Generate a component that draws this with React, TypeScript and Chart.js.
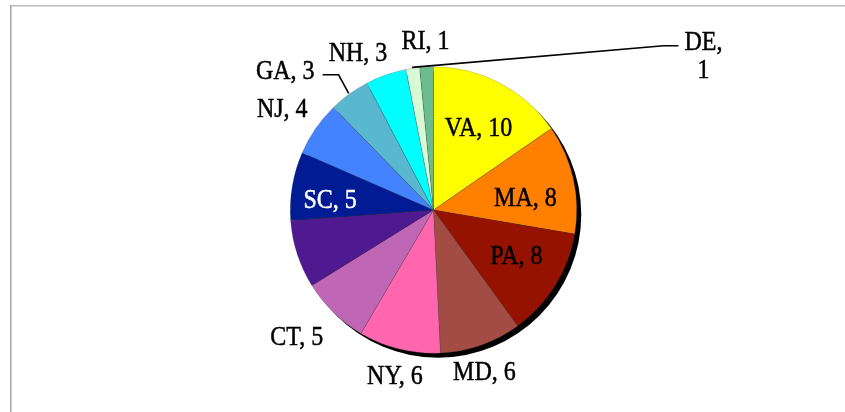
import React, { useEffect, useRef } from 'react';
import { Chart, registerables } from 'chart.js';

Chart.register(...registerables);

// ---- data ----
const states = ['VA', 'MA', 'PA', 'MD', 'NY', 'CT', 'NC', 'SC', 'NJ', 'GA', 'NH', 'RI', 'DE'];
const seats = [10, 8, 8, 6, 6, 5, 5, 5, 4, 3, 3, 1, 1];

// ---- styles ----
const sliceColors = [
  '#FFFF00', '#FF7F00', '#961200', '#A34C43', '#FF66AE', '#BF67B4', '#4F1990',
  '#001B94', '#4383FF', '#59B7CF', '#00FFFF', '#D6F9D6', '#6BBD8E',
];
const whiteLabelStates = ['SC'];
const hiddenLabelStates = ['NC'];
const wrappedLabelStates = ['DE'];
const leaderLabelStates = ['GA', 'DE'];
// label placement relative to each arc: radius factor and angle shift (deg, clockwise)
const labelRadiusFactor = [0.646, 0.646, 0.665, 1.19, 1.194, 1.309, 0.7, 0.724, 1.265, 1.415, 1.211, 1.172, 2.167];
const labelAngleShift = [1.35, 5.7, -2.3, 2.0, -0.8, 2.5, 0, -4.7, -1.2, -11, -6.4, 5.6, 63.2];
const leaderAnchorShift = [0, 0, 0, 0, 0, 0, 0, 0, 0, 0, 0, 0, -5.75];

const FONT = '24px "Liberation Serif", "Times New Roman", serif';
const TEXT_SY = 1.13;
const LINE_H = 28;

const framePlugin = {
  id: 'frame',
  beforeDraw(chart: any) {
    const ctx = chart.ctx;
    ctx.save();
    ctx.fillStyle = '#BDBDBD';
    ctx.fillRect(10, 5, chart.width - 10, 1.5);
    ctx.fillStyle = '#A6A6A6';
    ctx.fillRect(10, 5, 1.5, chart.height - 5);
    ctx.restore();
  },
};

const shadowPlugin = {
  id: 'pieShadow',
  beforeDatasetsDraw(chart: any) {
    const meta = chart.getDatasetMeta(0);
    if (!meta.data.length) return;
    const arc = meta.data[0];
    const { x, y, outerRadius } = arc.getProps(['x', 'y', 'outerRadius'], true);
    const ctx = chart.ctx;
    ctx.save();
    ctx.fillStyle = '#000000';
    ctx.beginPath();
    ctx.arc(x + 4.5, y + 4.5, outerRadius, 0, Math.PI * 2);
    ctx.fill();
    ctx.restore();
  },
};

function drawText(ctx: any, text: string, cx: number, cy: number, color: string) {
  ctx.save();
  ctx.translate(cx, cy);
  ctx.scale(1, TEXT_SY);
  ctx.fillStyle = color;
  ctx.strokeStyle = color;
  ctx.lineWidth = 0.45;
  ctx.fillText(text, 0, 0);
  ctx.strokeText(text, 0, 0);
  ctx.restore();
}

const labelPlugin = {
  id: 'sliceLabels',
  afterDatasetsDraw(chart: any) {
    const meta = chart.getDatasetMeta(0);
    const ctx = chart.ctx;
    const labels: string[] = chart.data.labels;
    const values: number[] = chart.data.datasets[0].data;
    ctx.save();
    ctx.font = FONT;
    ctx.textAlign = 'center';
    ctx.textBaseline = 'middle';
    meta.data.forEach((arc: any, i: number) => {
      const st = labels[i];
      if (hiddenLabelStates.includes(st)) return;
      const { x, y, startAngle, endAngle, outerRadius } = arc.getProps(
        ['x', 'y', 'startAngle', 'endAngle', 'outerRadius'], true);
      const midA = (startAngle + endAngle) / 2;
      const a = midA + (labelAngleShift[i] * Math.PI) / 180;
      const r = outerRadius * labelRadiusFactor[i];
      const lx = x + Math.cos(a) * r;
      const ly = y + Math.sin(a) * r;
      const lines = wrappedLabelStates.includes(st)
        ? [st + ',', String(values[i])]
        : [st + ', ' + values[i]];
      const y0 = ly - ((lines.length - 1) * LINE_H) / 2;
      const color = whiteLabelStates.includes(st) ? '#FFFFFF' : '#000000';
      let maxW = 0;
      lines.forEach((ln, j) => {
        drawText(ctx, ln, lx, y0 + j * LINE_H, color);
        maxW = Math.max(maxW, ctx.measureText(ln).width);
      });
      if (leaderLabelStates.includes(st)) {
        const aa = midA + (leaderAnchorShift[i] * Math.PI) / 180;
        const ex = x + Math.cos(aa) * (outerRadius + 1);
        const ey = y + Math.sin(aa) * (outerRadius + 1);
        const ly2 = y0 + 3;
        let sx: number, kx: number;
        if (lx > x) {
          sx = lx - maxW / 2 - 6;
          kx = sx - 15;
        } else {
          sx = lx + maxW / 2 + 8;
          kx = sx + 16;
        }
        ctx.strokeStyle = '#000000';
        ctx.lineWidth = 1.6;
        ctx.beginPath();
        ctx.moveTo(sx, ly2);
        ctx.lineTo(kx, ly2);
        ctx.lineTo(ex, ey);
        ctx.stroke();
      }
    });
    ctx.restore();
  },
};

export default function App() {
  const ref = useRef<HTMLCanvasElement | null>(null);
  useEffect(() => {
    if (!ref.current) return;
    const chart = new Chart(ref.current, {
      type: 'pie',
      data: {
        labels: states,
        datasets: [
          {
            data: seats,
            backgroundColor: sliceColors,
            borderColor: 'rgba(70,70,70,0.45)',
            borderWidth: 0.5,
          },
        ],
      },
      options: {
        responsive: false,
        maintainAspectRatio: false,
        animation: false,
        layout: { padding: { left: 290, right: 268, top: 66.5, bottom: 58.5 } },
        plugins: {
          legend: { display: false },
          tooltip: { enabled: false },
          title: { display: false },
        },
      },
      plugins: [framePlugin, shadowPlugin, labelPlugin],
    });
    return () => chart.destroy();
  }, []);
  return (
    <div style={{ position: 'absolute', left: 0, top: 0, width: 845, height: 412, background: '#ffffff' }}>
      <canvas ref={ref} width={845} height={412} style={{ display: 'block' }} />
    </div>
  );
}
